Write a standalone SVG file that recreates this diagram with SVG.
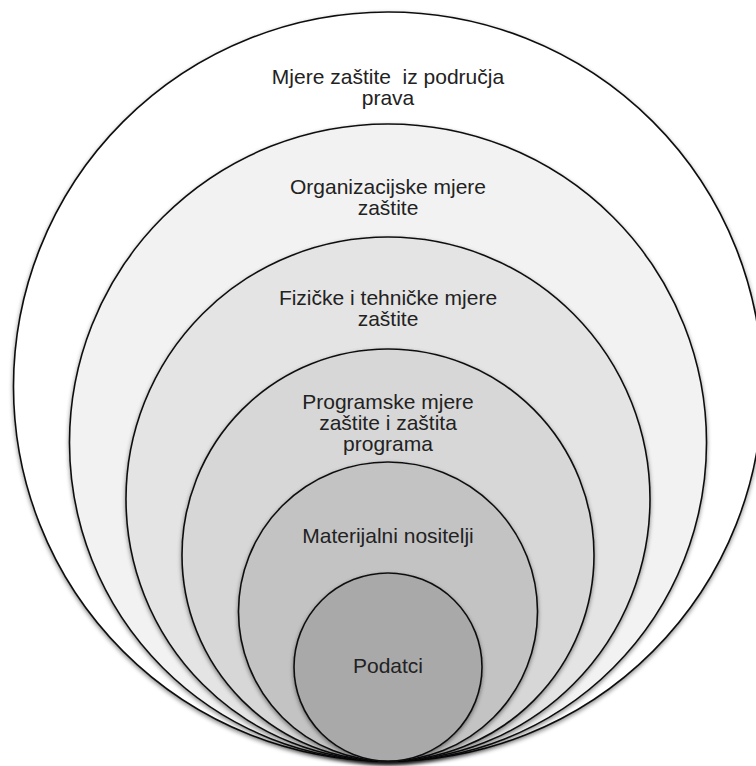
<svg xmlns="http://www.w3.org/2000/svg" width="756" height="766" viewBox="0 0 756 766">
<defs>
<filter id="sh" x="-10%" y="-10%" width="120%" height="125%">
<feDropShadow dx="0" dy="2" stdDeviation="2" flood-color="#000" flood-opacity="0.45"/>
</filter>
</defs>
<style>
.c{stroke:#111;stroke-width:1.6;filter:url(#sh)}
.t{font-family:"Liberation Sans",Arial,sans-serif;font-size:21px;fill:#222;text-anchor:middle;white-space:pre}
</style>
<rect width="756" height="766" fill="#fff"/>
<g id="n1"><circle class="c" cx="388" cy="386.5" r="374.5" fill="#ffffff"/>
<text class="t" x="388" y="84" xml:space="preserve">Mjere zaštite  iz područja</text><text class="t" x="388" y="105">prava</text></g>
<g id="n2"><circle class="c" cx="388" cy="442.5" r="318.5" fill="#f2f2f2"/>
<text class="t" x="388" y="194">Organizacijske mjere</text><text class="t" x="388" y="215">zaštite</text></g>
<g id="n3"><circle class="c" cx="388" cy="499" r="262" fill="#e4e4e4"/>
<text class="t" x="388" y="305">Fizičke i tehničke mjere</text><text class="t" x="388" y="326">zaštite</text></g>
<g id="n4"><circle class="c" cx="388" cy="555" r="206" fill="#d7d7d7"/>
<text class="t" x="388" y="409">Programske mjere</text><text class="t" x="388" y="430">zaštite i zaštita</text><text class="t" x="388" y="451">programa</text></g>
<g id="n5"><circle class="c" cx="388" cy="611.5" r="149.5" fill="#c3c3c3"/>
<text class="t" x="388" y="543">Materijalni nositelji</text></g>
<g id="n6"><circle class="c" cx="388" cy="667" r="94" fill="#a9a9a9"/>
<text class="t" x="388" y="673">Podatci</text></g>
<g id="connectors"/>
</svg>
